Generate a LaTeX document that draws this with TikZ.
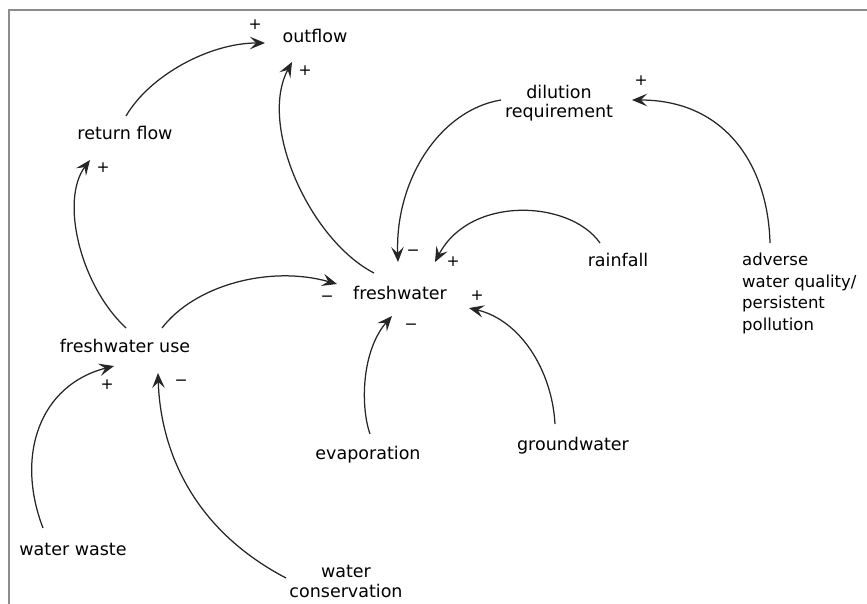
\documentclass[tikz,border=0pt]{standalone}
\usepackage{fontspec}
\setmainfont{DejaVu Sans}
\usetikzlibrary{arrows.meta}
\begin{document}
\begin{tikzpicture}[x=1pt,y=-1pt,
  lbl/.style={font=\fontsize{17.5}{20}\selectfont, inner sep=0pt, text=black},
  sgn/.style={font=\fontsize{15.5}{15.5}\selectfont, inner sep=0pt, text=black},
  link/.style={draw=black!85, line width=1.25pt, -{Stealth[length=15pt,width=12.5pt,inset=6pt]}}]
\useasboundingbox (0,0) rectangle (867,603);
\draw[black!45, line width=2pt] (8.5,615) -- (8.5,10) -- (880,10);
% variables
\node[lbl, anchor=base] (outflow) at (315,42) {outflow};
\node[lbl, anchor=base] (retflow) at (125,139) {return flow};
\node[lbl, align=center, font=\fontsize{17.5}{19.5}\selectfont] (dilution) at (559,103) {dilution\\requirement};
\node[lbl, anchor=base] (fresh) at (400,299) {freshwater};
\node[lbl, anchor=base] (rainfall) at (618,266) {rainfall};
\node[lbl, anchor=west, align=left, font=\fontsize{16.5}{21.8}\selectfont] (adverse) at (742,293.5) {adverse\\water quality/\\persistent\\pollution};
\node[lbl, anchor=base] (freshuse) at (125,352) {freshwater use};
\node[lbl, anchor=base] (evap) at (368,459) {evaporation};
\node[lbl, anchor=base] (ground) at (573,450) {groundwater};
\node[lbl, anchor=base] (waste) at (73,555) {water waste};
\node[lbl, align=center, font=\fontsize{17.5}{20}\selectfont] (cons) at (346,581) {water\\conservation};
% connectors
\draw[link] ([shift={(1,-23)}]retflow.base) .. controls +(24,-41) and +(-55,0) .. ([shift={(-50,1)}]outflow.base);
\draw[link] ([shift={(-26,-26)}]fresh.base) .. controls +(-64,-33) and +(-34,63) .. ([shift={(-23,20)}]outflow.base);
\draw[link] ([shift={(1,-24)}]freshuse.base) .. controls +(-46,-43) and +(-30,40) .. ([shift={(-35,21)}]retflow.base);
\draw[link] ([shift={(37,-24)}]freshuse.base) .. controls +(33,-43) and +(-67,-19) .. ([shift={(-63,-15)}]fresh.base);
\draw[link] ([shift={(-58,-3)}]dilution.center) .. controls +(-61,10) and +(-3,-82) .. ([shift={(-2,-37)}]fresh.base);
\draw[link] ([shift={(-18,-23)}]rainfall.base) .. controls +(-30,-43) and +(35,-67) .. ([shift={(35,-37)}]fresh.base);
\draw[link] ([shift={(28,-50.5)}]adverse.west) .. controls +(-2,-78) and +(93,0) .. ([shift={(73,-3)}]dilution.center);
\draw[link] ([shift={(-18,-26)}]ground.base) .. controls +(-3,-54) and +(51,12) .. ([shift={(69,9)}]fresh.base);
\draw[link] ([shift={(2,-25)}]evap.base) .. controls +(-10,-29) and +(-30,34) .. ([shift={(-8,17)}]fresh.base);
\draw[link] ([shift={(-30,-27)}]waste.base) .. controls +(-28,-73) and +(-74,19) .. ([shift={(-11,14)}]freshuse.base);
\draw[link] ([shift={(-60,-3)}]cons.center) .. controls +(-101,-53) and +(2,67) .. ([shift={(33,21)}]freshuse.base);
% polarity signs
\node[sgn] (s1) at (255,25) {+};
\node[sgn] (s2) at (305,71) {+};
\node[sgn] (s3) at (103,168) {+};
\node[sgn] (s4) at (327,299) {−};
\node[sgn] (s5) at (413,253) {−};
\node[sgn] (s6) at (453,262) {+};
\node[sgn] (s7) at (477,296) {+};
\node[sgn] (s8) at (411,327) {−};
\node[sgn] (s9) at (641,81) {+};
\node[sgn] (s10) at (107,385) {+};
\node[sgn] (s11) at (181,383) {−};
\end{tikzpicture}
\end{document}
